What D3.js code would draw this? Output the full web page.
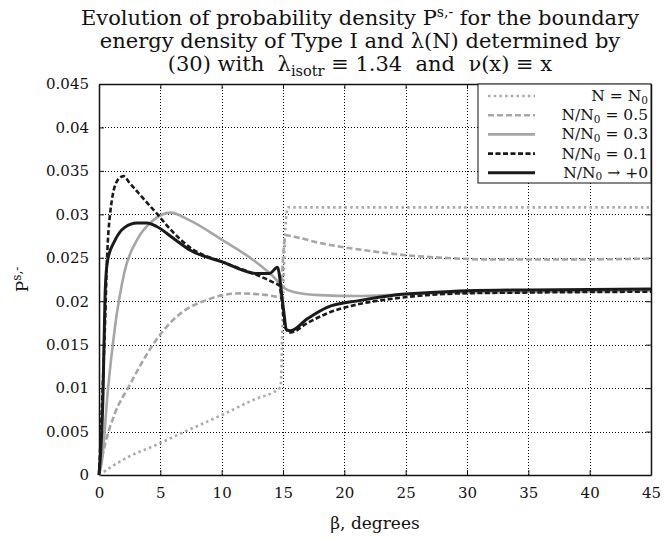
<!DOCTYPE html>
<html>
<head>
<meta charset="utf-8">
<script src="https://cdn.jsdelivr.net/npm/d3@7"></script>
<style>
  body { margin: 0; background: #fff; }
  svg { font-family: "DejaVu Serif", serif; }
</style>
</head>
<body>
<div id="chart"></div>
<script>
// values
const xTicks = [0, 5, 10, 15, 20, 25, 30, 35, 40, 45];
const yTicks = [0, 0.005, 0.01, 0.015, 0.02, 0.025, 0.03, 0.035, 0.04, 0.045];
const yTickLabels = ["0", "0.005", "0.01", "0.015", "0.02", "0.025", "0.03", "0.035", "0.04", "0.045"];

const betaN0 = [0, 2.4, 4.4, 7, 10, 12.5, 14.8, 15.0, 15.2, 15.4, 20, 30, 45];
const pN0 = [0, 0.0021, 0.0033, 0.0050, 0.0069, 0.0086, 0.0101, 0.0200, 0.0285, 0.0308, 0.0308, 0.0308, 0.0308];

const beta05 = [0, 0.33, 1.3, 2.4, 4.4, 6, 7.4, 8.7, 10.1, 11.5, 13, 14.5, 14.8, 15.0, 15.2, 16, 18, 20, 22, 25, 28, 32, 38, 45];
const p05 = [0, 0.0025, 0.0071, 0.0101, 0.0150, 0.0178, 0.0193, 0.0201, 0.0207, 0.0209, 0.0208, 0.0205, 0.0204, 0.0250, 0.0276, 0.0274, 0.0267, 0.0262, 0.0258, 0.0253, 0.0250, 0.0248, 0.0248, 0.0249];

const beta03 = [0, 0.25, 0.7, 1.3, 2.1, 3.2, 4.4, 5.8, 7.4, 10.1, 12.9, 14.3, 15.0, 15.8, 18, 21, 25, 30, 38, 45];
const p03 = [0, 0.0017, 0.0094, 0.0170, 0.0235, 0.0273, 0.0293, 0.0302, 0.0293, 0.0270, 0.0244, 0.0227, 0.0216, 0.0211, 0.0207, 0.0206, 0.0208, 0.0210, 0.0211, 0.0212];

const beta01 = [0, 0.3, 0.5, 0.65, 0.9, 1.5, 2.0, 2.5, 3.5, 4.7, 6, 7.4, 10.1, 12.9, 14.3, 14.7, 15.2, 15.6, 17, 18.6, 21.3, 24, 26.7, 29.4, 35, 45];
const p01 = [0, 0.0100, 0.0178, 0.0247, 0.0300, 0.0339, 0.0344, 0.0336, 0.0320, 0.0301, 0.0280, 0.0262, 0.0245, 0.0230, 0.0221, 0.0218, 0.0169, 0.0164, 0.0175, 0.0186, 0.0197, 0.0203, 0.0207, 0.0209, 0.0210, 0.0211];

const beta0 = [0, 0.33, 0.5, 0.7, 1.3, 2.1, 3.1, 3.9, 4.7, 6, 7.4, 10.1, 12.9, 13.9, 14.55, 15.0, 15.3, 15.6, 17, 18.6, 21.3, 24, 27, 30, 35, 45];
const p0 = [0, 0.0094, 0.0210, 0.0247, 0.0270, 0.0285, 0.0290, 0.0290, 0.0286, 0.0273, 0.0259, 0.0245, 0.0232, 0.0232, 0.0239, 0.0195, 0.0167, 0.0166, 0.0180, 0.0193, 0.0201, 0.0207, 0.0210, 0.0212, 0.0213, 0.0214];

const legendLabels = ["N = N", "N/N", "N/N", "N/N", "N/N"];
const legendTails = ["", " = 0.5", " = 0.3", " = 0.1", " \u2192 +0"];

const series = [
  { x: betaN0, y: pN0, color: "#aaaaaa", width: 2.6, dash: "2.5 3.2" },
  { x: beta05, y: p05, color: "#a6a6a6", width: 2.6, dash: "6 3" },
  { x: beta03, y: p03, color: "#a6a6a6", width: 2.6, dash: null },
  { x: beta01, y: p01, color: "#1a1a1a", width: 2.6, dash: "5 2.5" },
  { x: beta0, y: p0, color: "#1a1a1a", width: 3, dash: null }
];

const width = 665, height = 540;
const margin = { top: 84, right: 14, bottom: 65, left: 99 };

const svg = d3.select("#chart").append("svg")
  .attr("width", width)
  .attr("height", height);

const x = d3.scaleLinear().domain([0, 45]).range([margin.left, width - margin.right]);
const y = d3.scaleLinear().domain([0, 0.045]).range([height - margin.bottom, margin.top]);

// grid (dotted)
const grid = svg.append("g")
  .attr("stroke", "#000")
  .attr("stroke-width", 1)
  .attr("stroke-dasharray", "1 2")
  .attr("shape-rendering", "crispEdges");
grid.selectAll(".gx").data(xTicks.slice(1, -1)).enter().append("line")
  .attr("x1", d => Math.round(x(d)) + 0.5).attr("x2", d => Math.round(x(d)) + 0.5)
  .attr("y1", y(0)).attr("y2", y(0.045));
grid.selectAll(".gy").data(yTicks.slice(1, -1)).enter().append("line")
  .attr("x1", x(0)).attr("x2", x(45))
  .attr("y1", d => Math.round(y(d)) + 0.5).attr("y2", d => Math.round(y(d)) + 0.5);

// axes
svg.append("g")
  .attr("transform", `translate(0,${y(0)})`)
  .call(d3.axisBottom(x).tickValues(xTicks).tickSizeInner(-5).tickSizeOuter(0).tickPadding(12).tickFormat(d3.format("d")));
svg.append("g")
  .attr("transform", `translate(${x(0)},0)`)
  .call(d3.axisLeft(y).tickValues(yTicks).tickSizeInner(-5).tickSizeOuter(0).tickPadding(10).tickFormat((d, i) => yTickLabels[i]));
svg.append("g")
  .attr("transform", `translate(${x(45)},0)`)
  .call(d3.axisRight(y).tickValues(yTicks).tickSizeInner(-5).tickSizeOuter(0).tickFormat(""));
svg.append("g")
  .attr("transform", `translate(0,${y(0.045)})`)
  .call(d3.axisTop(x).tickValues(xTicks).tickSizeInner(-5).tickSizeOuter(0).tickFormat(""));

svg.selectAll(".domain").attr("stroke", "#111").attr("stroke-width", 1.5);
svg.selectAll(".tick line").attr("stroke", "#111");
svg.selectAll(".tick text").attr("font-family", "DejaVu Serif").attr("font-size", 15).attr("fill", "#111");

// curves
const line = d3.line()
  .x(d => x(d[0]))
  .y(d => y(d[1]))
  .curve(d3.curveMonotoneX);

const plot = svg.append("g");
series.forEach(s => {
  plot.append("path")
    .datum(d3.zip(s.x, s.y))
    .attr("fill", "none")
    .attr("stroke", s.color)
    .attr("stroke-width", s.width)
    .attr("stroke-dasharray", s.dash)
    .attr("stroke-linejoin", "round")
    .attr("d", line);
});

// legend
const lg = svg.append("g");
lg.append("rect")
  .attr("x", 478).attr("y", y(0.045))
  .attr("width", x(45) - 478).attr("height", 99)
  .attr("fill", "#fff").attr("stroke", "#111").attr("stroke-width", 1);
series.forEach((s, i) => {
  const cy = 96 + i * 19.2;
  lg.append("line")
    .attr("x1", 488).attr("x2", 535)
    .attr("y1", cy).attr("y2", cy)
    .attr("stroke", s.color)
    .attr("stroke-width", s.width)
    .attr("stroke-dasharray", s.dash);
  const t = lg.append("text")
    .attr("x", 648).attr("y", cy + 5)
    .attr("text-anchor", "end")
    .attr("font-size", 15.5)
    .attr("fill", "#111");
  t.append("tspan").text(legendLabels[i]);
  t.append("tspan").attr("font-size", 10.5).attr("dy", 2.5).text("0");
  t.append("tspan").attr("dy", -2.5).text(legendTails[i]);
});

// title
const title = svg.append("text")
  .attr("text-anchor", "middle")
  .attr("font-size", 21)
  .attr("fill", "#111");
const l1 = title.append("tspan").attr("x", 360).attr("y", 25);
l1.append("tspan").text("Evolution of probability density P");
l1.append("tspan").attr("font-size", 14).attr("dy", -8).text("s,-");
l1.append("tspan").attr("dy", 8).text(" for the boundary");
title.append("tspan").attr("x", 360).attr("y", 48)
  .text("energy density of Type I and \u03bb(N) determined by");
const l3 = title.append("tspan").attr("x", 360).attr("y", 71);
l3.append("tspan").text("(30) with\u00a0 \u03bb");
l3.append("tspan").attr("font-size", 14.5).attr("dy", 5).text("isotr");
l3.append("tspan").attr("dy", -5).text(" \u2261 1.34\u00a0 and\u00a0 \u03bd(x) \u2261 x");

// axis labels
svg.append("text")
  .attr("x", x(22.5)).attr("y", 529)
  .attr("text-anchor", "middle")
  .attr("font-size", 17)
  .attr("fill", "#111")
  .text("\u03b2, degrees");

const yl = svg.append("text")
  .attr("transform", `translate(28,${y(0.0225)}) rotate(-90)`)
  .attr("text-anchor", "middle")
  .attr("font-size", 17)
  .attr("fill", "#111");
yl.append("tspan").text("P");
yl.append("tspan").attr("font-size", 12).attr("dy", -7).text("s,-");
</script>
</body>
</html>
